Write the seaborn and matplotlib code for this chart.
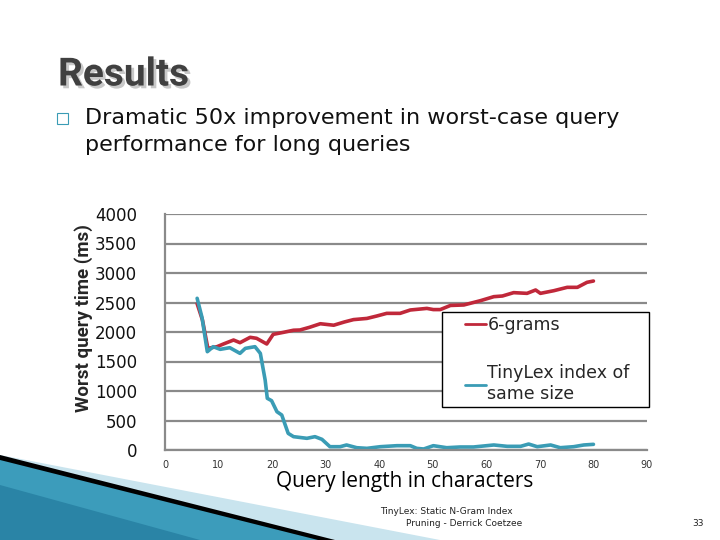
import numpy as np
import pandas as pd
import matplotlib
matplotlib.use("Agg")
import matplotlib.pyplot as plt
import matplotlib.patheffects as pe
from matplotlib import font_manager
from matplotlib.lines import Line2D
from matplotlib.legend_handler import HandlerLine2D
from matplotlib.patches import Polygon, Rectangle
import seaborn as sns

# ---------------------------- DATA ------------------------------------

ngram_x = [6, 7, 8, 9.7, 11, 12.8, 14, 15.9, 17.1, 19, 20.2, 22.1, 24, 25.2,
           27, 29, 31.5, 33.5, 35.2, 37.7, 39.5, 41.4, 43.9, 45.8, 48.9, 50.1,
           51.4, 53.3, 55.8, 58.9, 61.4, 63, 65.1, 67.6, 69.2, 70.1, 72.6,
           75.1, 77, 78.8, 80]
ngram_y = [2480, 2200, 1723, 1751, 1800, 1864, 1819, 1910, 1893, 1797, 1960,
           1994, 2030, 2034, 2080, 2140, 2115, 2170, 2210, 2230, 2270, 2316,
           2316, 2373, 2400, 2380, 2380, 2450, 2458, 2531, 2599, 2610, 2667,
           2655, 2712, 2655, 2700, 2757, 2757, 2842, 2864]

tinylex_x = [6, 6.9, 7.9, 9, 10.3, 12.1, 14, 15, 16.8, 17.8, 18.7, 19.1, 19.9,
             20.9, 21.8, 23, 24, 26.5, 28, 29.3, 30.8, 32.7, 33.9, 35.8, 37.7,
             40.2, 43.3, 45.8, 47, 48.3, 50.1, 52.6, 55.1, 57.6, 61.4, 63.9,
             66.4, 67.9, 69.5, 72, 73.8, 76.3, 78.2, 80]
tinylex_y = [2571, 2250, 1666, 1751, 1706, 1734, 1638, 1723, 1751, 1638, 1186,
             876, 836, 649, 593, 282, 226, 198, 226, 181, 56, 56, 85, 39, 28,
             56, 73, 73, 28, 17, 73, 39, 51, 51, 85, 62, 62, 101, 56, 85, 39,
             56, 85, 96]

series_names = ["6-grams", "TinyLex index of\nsame size"]
series_colors = ["#c0283a", "#3a9cb5"]
y_ticks = list(range(0, 4001, 500))
x_ticks = list(range(0, 91, 10))

title = "Results"
bullet_lines = ["Dramatic 50x improvement in worst-case query",
                "performance for long queries"]
footer_lines = ["TinyLex: Static N-Gram Index", "Pruning - Derrick Coetzee"]
page_no = "33"


def pick_font(candidates):
    names = {f.name for f in font_manager.fontManager.ttflist}
    for c in candidates:
        if c in names:
            return c
    return "DejaVu Sans"


def main():
    sns.set_style("white")
    plt.rcParams["font.family"] = ["DejaVu Sans"]

    title_font = pick_font(["Liberation Sans Narrow", "Roboto", "DejaVu Sans"])
    body_font = pick_font(["Open Sans", "Lato", "DejaVu Sans"])

    df = pd.concat([
        pd.DataFrame({"x": ngram_x, "y": ngram_y, "series": series_names[0]}),
        pd.DataFrame({"x": tinylex_x, "y": tinylex_y, "series": series_names[1]}),
    ])

    fig = plt.figure(figsize=(7.2, 5.4), dpi=100)
    fig.patch.set_facecolor("white")

    # bottom-left slide decoration
    fig.add_artist(Polygon([(0, 85 / 540), (440 / 720, 0), (0, 0)],
                           closed=True, transform=fig.transFigure,
                           facecolor="#c9e4ee", edgecolor="none"))
    fig.add_artist(Polygon([(0, 85 / 540), (335 / 720, 0), (0, 0)],
                           closed=True, transform=fig.transFigure,
                           facecolor="black", edgecolor="none"))
    fig.add_artist(Polygon([(0, 80 / 540), (318 / 720, 0), (0, 0)],
                           closed=True, transform=fig.transFigure,
                           facecolor="#3c9cbb", edgecolor="none"))
    fig.add_artist(Polygon([(0, 55 / 540), (200 / 720, 0), (0, 0)],
                           closed=True, transform=fig.transFigure,
                           facecolor="#2a84a6", edgecolor="none"))

    ax = fig.add_axes([165 / 720, 90 / 540, 482 / 720, 236 / 540])
    sns.lineplot(data=df, x="x", y="y", hue="series", palette=series_colors,
                 sort=False, estimator=None, linewidth=2.6, ax=ax)

    ax.set_xlim(0, 90)
    ax.set_ylim(0, 4000)
    ax.set_xticks(x_ticks)
    ax.set_yticks(y_ticks)
    ax.yaxis.grid(True, color="#8a8a8a", linewidth=1.6)
    ax.xaxis.grid(False)
    for side in ["top", "right"]:
        ax.spines[side].set_visible(False)
    for side in ["left", "bottom"]:
        ax.spines[side].set_color("#8a8a8a")
        ax.spines[side].set_linewidth(1.6)
    ax.tick_params(axis="x", labelsize=7, colors="#8a8a8a", length=3,
                   direction="out", labelcolor="#333333", pad=4)
    ax.tick_params(axis="y", labelsize=12, length=3, colors="#8a8a8a",
                   labelcolor="#111111", pad=17)
    ax.set_xlabel("")
    ax.set_ylabel("")

    leg = ax.legend(loc="upper left", bbox_to_anchor=(0.575, 0.178, 0.43, 0.407),
                    mode="expand", fontsize=12.5, frameon=True, fancybox=False,
                    handlelength=2.25, handletextpad=0.1, labelspacing=1.73,
                    borderpad=0.25, borderaxespad=0,
                    handler_map={Line2D: HandlerLine2D(xpad=1.05)})
    leg.get_frame().set_edgecolor("black")
    leg.get_frame().set_linewidth(1.0)
    leg.get_frame().set_alpha(1)
    for line in leg.get_lines():
        line.set_linewidth(2.0)

    # axis labels
    fig.text(84 / 720, 1 - 318 / 540, "Worst query time (ms)", rotation=90,
             ha="center", va="center", fontsize=13.5, fontweight="bold",
             family=[title_font, "DejaVu Sans"])
    fig.text(405 / 720, 1 - 481 / 540, "Query length in characters",
             ha="center", va="center", fontsize=15, color="black",
             family=[body_font, "DejaVu Sans"])

    # slide title with drop shadow
    fig.text(58 / 720, 1 - 75 / 540, title, ha="left", va="center",
             fontsize=28, fontweight="bold", color="#404040",
             family=[title_font, "DejaVu Sans"],
             path_effects=[pe.withSimplePatchShadow(offset=(2, -2),
                                                    shadow_rgbFace="#c8c8c8",
                                                    alpha=1)])

    # bullet
    fig.add_artist(Rectangle((57 / 720, 1 - 124 / 540), 11 / 720, 11 / 540,
                             transform=fig.transFigure, facecolor="white",
                             edgecolor="#3a9cb5", linewidth=0.8))
    for i, line in enumerate(bullet_lines):
        fig.text(85 / 720, 1 - (118 + 27 * i) / 540, line, ha="left",
                 va="center", fontsize=16, color="#111111",
                 family=["DejaVu Sans"])

    # footer
    fig.text(380 / 720, 1 - 511 / 540, footer_lines[0], ha="left",
             va="center", fontsize=6.5, color="#222222")
    fig.text(522 / 720, 1 - 523 / 540, footer_lines[1], ha="right",
             va="center", fontsize=6.5, color="#222222")
    fig.text(698 / 720, 1 - 523 / 540, page_no, ha="center", va="center",
             fontsize=6.5, color="#222222")

    fig.savefig("out.png", dpi=100)
    plt.close(fig)


if __name__ == "__main__":
    main()
